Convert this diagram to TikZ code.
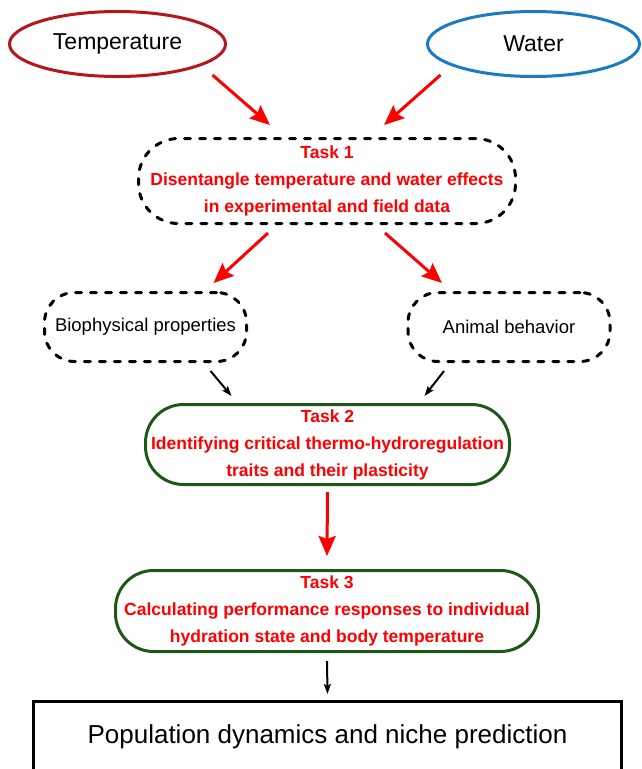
\documentclass[tikz,border=0pt]{standalone}
\usepackage{fontspec}
\setmainfont{Liberation Sans}
\usetikzlibrary{arrows.meta,shapes.geometric}
\definecolor{tempred}{HTML}{B5161B}
\definecolor{waterblue}{HTML}{1A7BC3}
\definecolor{taskgreen}{HTML}{1F561A}
\definecolor{taskred}{HTML}{FF0000}
\tikzset{
  factor/.style={ellipse, line width=3pt, inner sep=0pt, minimum height=65pt,
    font=\fontsize{23}{27}\selectfont},
  taskbox/.style={rectangle, line width=3pt, inner sep=0pt, align=center,
    text=taskred, font=\fontsize{17.5}{27}\selectfont\bfseries},
  dashbox/.style={draw=black, dash pattern=on 6pt off 9pt, line cap=round},
  greenbox/.style={draw=taskgreen, rounded corners=38pt},
  sidebox/.style={rectangle, draw=black, line width=3pt, dash pattern=on 6pt off 9pt,
    line cap=round, rounded corners=30pt, inner sep=0pt, minimum width=202pt,
    minimum height=69pt, font=\fontsize{18.5}{22}\selectfont},
  redarrow/.style={draw=taskred, line width=3pt, -{Stealth[length=20pt, width=17pt, inset=3pt]}},
  blackarrow/.style={draw=black, line width=2pt, -{Stealth[length=10pt, width=7pt, inset=2pt]}}
}
\begin{document}
\begin{tikzpicture}[x=1pt, y=-1pt]
    \useasboundingbox (0,0) rectangle (642,769);

    % driving factors
    \node[factor, draw=tempred, minimum width=216pt] (temp) at (117.5,44) {Temperature};
    \node[factor, draw=waterblue, minimum width=212pt] (water) at (533.5,44) {Water};

    % task boxes
    \node[taskbox, dashbox, rounded corners=40pt, minimum width=377pt, minimum height=85pt]
        (task1) at (327,181)
        {Task 1\\Disentangle temperature and water effects\\in experimental and field data};
    \node[sidebox] (bio) at (145.5,327) {Biophysical properties};
    \node[sidebox] (animal) at (509,327) {Animal behavior};
    \node[taskbox, greenbox, minimum width=364pt, minimum height=80pt] (task2) at (327.5,444.5)
        {Task 2\\Identifying critical thermo-hydroregulation\\traits and their plasticity};
    \node[taskbox, greenbox, minimum width=423pt, minimum height=81pt] (task3) at (327,611)
        {Task 3\\Calculating performance responses to individual\\hydration state and body temperature};
    \node[rectangle, draw=black, line width=2.5pt, anchor=north, inner sep=0pt,
        minimum width=588pt, text height=42pt, text depth=80pt,
        font=\fontsize{26}{30}\selectfont] (pop) at (327.5,700)
        {Population dynamics and niche prediction};

    % connectors
    \draw[redarrow] ([xshift=95pt, yshift=3pt]temp.south) -- ([xshift=-57pt, yshift=12pt]task1.north);
    \draw[redarrow] ([xshift=-93pt, yshift=3pt]water.south) -- ([xshift=57pt, yshift=12pt]task1.north);
    \draw[redarrow] ([xshift=-59pt, yshift=-8pt]task1.south) -- ([xshift=68pt, yshift=8pt]bio.north);
    \draw[redarrow] ([xshift=58pt, yshift=-8pt]task1.south) -- ([xshift=-67pt, yshift=8pt]animal.north);
    \draw[blackarrow] ([xshift=65pt, yshift=-8pt]bio.south) -- ([xshift=-96pt, yshift=7pt]task2.north);
    \draw[blackarrow] ([xshift=-65pt, yshift=-8pt]animal.south) -- ([xshift=97pt, yshift=7pt]task2.north);
    \draw[redarrow] ([yshift=-6pt]task2.south) -- ([yshift=13pt]task3.north);
    \draw[blackarrow] ([yshift=-8pt]task3.south) -- ([yshift=6pt]pop.north);
\end{tikzpicture}
\end{document}
